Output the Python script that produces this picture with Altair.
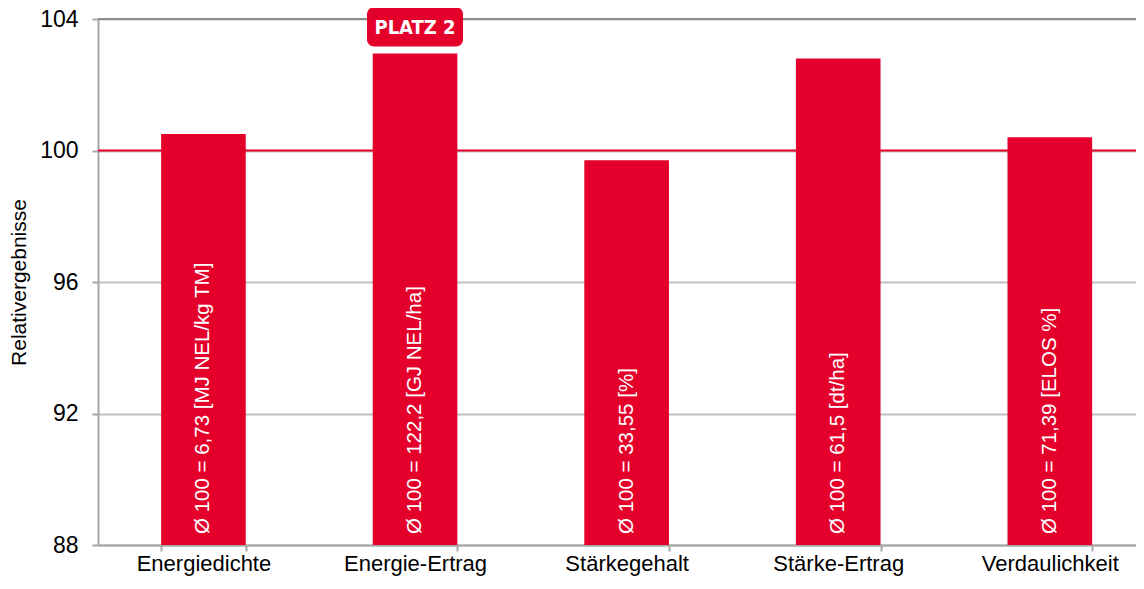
import altair as alt
import pandas as pd

categories = ["Energiedichte", "Energie-Ertrag", "Stärkegehalt", "Stärke-Ertrag", "Verdaulichkeit"]
values = [100.5, 102.95, 99.7, 102.8, 100.4]
bar_labels = [
    "Ø 100 = 6,73 [MJ NEL/kg TM]",
    "Ø 100 = 122,2 [GJ NEL/ha]",
    "Ø 100 = 33,55 [%]",
    "Ø 100 = 61,5 [dt/ha]",
    "Ø 100 = 71,39 [ELOS %]",
]
y_ticks = [88, 92, 96, 100, 104]
badge_category = ["Energie-Ertrag"]
badge_text = ["PLATZ 2"]
badge_low = [103.16]
badge_high = [104.36]
badge_mid = [103.74]
reference_value = [100]
top_value = [104]
base_value = 88

RED = "#e4002b"
FONT = "Liberation Sans"

df = pd.DataFrame({"cat": categories, "val": values, "lab": bar_labels,
                   "base": [base_value] * len(categories)})
badge = pd.DataFrame({"cat": badge_category, "txt": badge_text, "lo": badge_low,
                      "hi": badge_high, "mid": badge_mid})

xscale = alt.Scale(domain=categories, paddingInner=0.6, paddingOuter=0.2528, align=0.59)
yscale = alt.Scale(domain=[88, 104], nice=False, zero=False)

x_enc = alt.X("cat:N", scale=xscale, sort=categories, title=None,
              axis=alt.Axis(tickBand="extent", labelAngle=0, labelFont=FONT,
                            labelFontSize=22, labelColor="#000", labelPadding=19,
                            labelBaseline="alphabetic",
                            domainColor="#a6a6a6", domainWidth=2, tickColor="#a6a6a6",
                            tickWidth=2, tickSize=6, grid=False))

bars = alt.Chart(df).mark_bar(color=RED).encode(
    x=x_enc,
    y=alt.Y("val:Q", scale=yscale, title="Relativergebnisse",
            axis=alt.Axis(values=y_ticks, labelFont=FONT, labelFontSize=23,
                          labelColor="#000", labelPadding=14, titleFont=FONT,
                          titleFontSize=21, titleFontWeight="normal", titleColor="#000",
                          titlePadding=10, domainColor="#a6a6a6", domainWidth=2,
                          tickColor="#a6a6a6", tickWidth=2, tickSize=6,
                          gridColor="#c0c0c0", gridWidth=2)),
    y2="base:Q",
)

labels = alt.Chart(df).mark_text(color="white", font=FONT, fontSize=20.5, angle=270,
                                 align="left", baseline="middle", dx=11).encode(
    x=alt.X("cat:N", scale=xscale, sort=categories),
    y=alt.Y("base:Q", scale=yscale),
    text="lab:N",
)

ref = alt.Chart(pd.DataFrame({"v": reference_value})).mark_rule(color=RED, strokeWidth=2).encode(
    y=alt.Y("v:Q", scale=yscale))
top = alt.Chart(pd.DataFrame({"v": top_value})).mark_rule(color="#8c8c8c", strokeWidth=2).encode(
    y=alt.Y("v:Q", scale=yscale))

badge_rect = alt.Chart(badge).mark_bar(color=RED, size=96, cornerRadius=7).encode(
    x=alt.X("cat:N", scale=xscale, sort=categories),
    y=alt.Y("lo:Q", scale=yscale),
    y2="hi:Q",
)
badge_lab = alt.Chart(badge).mark_text(color="white", font="DejaVu Sans Condensed",
                                       fontWeight="bold", fontSize=20,
                                       baseline="middle", align="center").encode(
    x=alt.X("cat:N", scale=xscale, sort=categories),
    y=alt.Y("mid:Q", scale=yscale),
    text="txt:N",
)

chart = alt.layer(bars, ref, top, labels, badge_rect, badge_lab).properties(
    width=1038, height=526,
    autosize=alt.AutoSizeParams(type="none"),
    padding={"left": 90, "top": 11, "right": 0, "bottom": 31},
).configure_view(stroke=None)

chart.save("out.html", embed_options={"renderer": "svg", "actions": False})
